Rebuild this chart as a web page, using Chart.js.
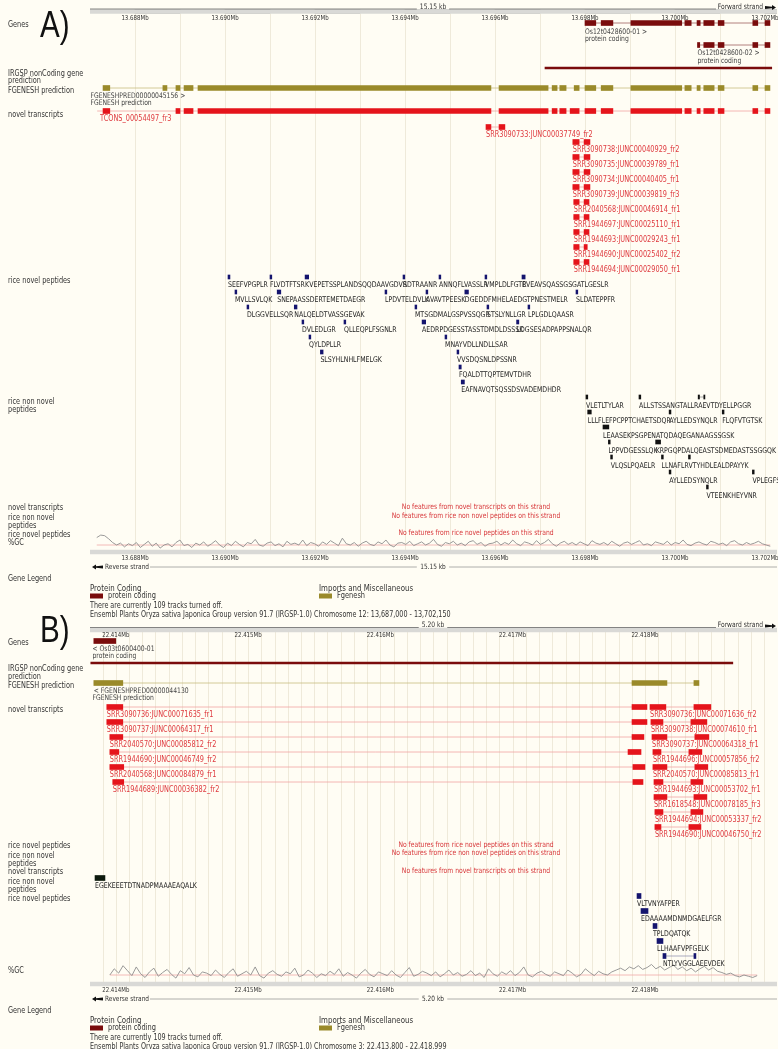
<!DOCTYPE html>
<html><head><meta charset="utf-8">
<script src="https://cdn.jsdelivr.net/npm/chart.js@4.4.1/dist/chart.umd.min.js"></script>
<style>html,body{margin:0;padding:0;background:#fffdf4;overflow:hidden}canvas{display:block}</style>
</head><body>
<canvas id="c" width="778" height="1049"></canvas>
<script>
// ===================== DATA =====================
const viewA = [13687000, 13702267];
const viewB = [22413805, 22418998];
const ticksA = [13688000,13690000,13692000,13694000,13696000,13698000,13700000,13702000];
const tickLabelsA = ['13.688Mb','13.690Mb','13.692Mb','13.694Mb','13.696Mb','13.698Mb','13.700Mb','13.702Mb'];
const ticksB = [22414000,22415000,22416000,22417000,22418000];
const tickLabelsB = ['22.414Mb','22.415Mb','22.416Mb','22.417Mb','22.418Mb'];
const spanLabelA = '15.15 kb', spanLabelB = '5.20 kb';

// Panel A
const geneA1 = [[13698000,13698240],[13698360,13698620],[13699020,13700150],[13700220,13700360],[13700490,13700560],[13700640,13700870],[13700960,13701090],[13701730,13701840],[13702000,13702110]];
const geneA2 = [[13700500,13700550],[13700640,13700870],[13700960,13701090],[13701730,13701840],[13702000,13702110]];
const geneA1Label = ['Os12t0428600-01 >','protein coding'];
const geneA2Label = ['Os12t0428600-02 >','protein coding'];
const irgspA = [13697111, 13702150];
const fgenA = [[13687290,13687440],[13688620,13688710],[13688910,13689000],[13689090,13689290],[13689400,13695910],[13696090,13697180],[13697270,13697380],[13697440,13697580],[13697760,13697870],[13698000,13698240],[13698360,13698620],[13699020,13700150],[13700220,13700360],[13700490,13700560],[13700640,13700870],[13700960,13701090],[13701730,13701840],[13702000,13702110]];
const fgenALabel = ['FGENESHPRED00000045156 >','FGENESH prediction'];
const tconsStart = 13687160;
const tconsA = [[13687290,13687440],[13688910,13689000],[13689090,13689290],[13689400,13695910],[13696090,13697180],[13697270,13697380],[13697440,13697580],[13697670,13697870],[13698000,13698240],[13698360,13698620],[13699020,13700150],[13700220,13700360],[13700490,13700560],[13700640,13700870],[13700960,13701090],[13701730,13701840],[13702000,13702110]];
const tconsLabel = 'TCONS_00054497_fr3';
const srrNamesA = ['SRR3090733:JUNC00037749_fr2','SRR3090738:JUNC00040929_fr2','SRR3090735:JUNC00039789_fr1','SRR3090734:JUNC00040405_fr1','SRR3090739:JUNC00039819_fr3','SRR2040568:JUNC00046914_fr1','SRR1944697:JUNC00025110_fr1','SRR1944693:JUNC00029243_fr1','SRR1944690:JUNC00025402_fr2','SRR1944694:JUNC00029050_fr1'];
const srrExonsA = [
 [[13695800,13695910],[13696090,13696220]],
 [[13697730,13697870],[13697980,13698110]],
 [[13697730,13697870],[13697980,13698110]],
 [[13697730,13697870],[13697980,13698110]],
 [[13697730,13697870],[13697980,13698110]],
 [[13697750,13697870],[13697980,13698090]],
 [[13697750,13697870],[13697980,13698090]],
 [[13697750,13697870],[13697980,13698090]],
 [[13697750,13697870],[13697980,13698050]],
 [[13697750,13697870],[13697980,13698090]]];
// peptides: [start, end, row, sequence]
const pepNovelA = [
 [13690067,13690110,0,'SEEFVPGPLR'],[13691000,13691040,0,'FLVDTFTSR'],[13691780,13691860,0,'KVEPETSSPLANDSQQDAAVGDVR'],
 [13693956,13693996,0,'SDTRAANR'],[13694756,13694796,0,'ANNQFLVASSLR'],[13695778,13695818,0,'VMPLDLFGTR'],[13696600,13696670,0,'EVEAVSQASSGSGATLGESLR'],
 [13690222,13690262,1,'MVLLSVLQK'],[13691160,13691240,1,'SNEPAASSDERTEMETDAEGR'],[13693556,13693596,1,'LPDVTELDVLK'],
 [13694467,13694507,1,'AVAVTPEESK'],[13695330,13695410,1,'DGEDDFMHELAEDGTPNESTMELR'],[13697800,13697840,1,'SLDATEPPFR'],
 [13690489,13690529,2,'DLGGVELLSQR'],[13691540,13691600,2,'NALQELDTVASSGEVAK'],[13694222,13694262,2,'MTSGDMALGSPVSSQGR'],
 [13695822,13695862,2,'STSLYNLLGR'],[13696733,13696773,2,'LPLGDLQAASR'],
 [13691711,13691751,3,'DVLEDLGR'],[13692644,13692684,3,'QLLEQPLFSGNLR'],[13694380,13694460,3,'AEDRPDGESSTASSTDMDLDSSSK'],[13696480,13696530,3,'LDGSESADPAPPSNALQR'],
 [13691867,13691907,4,'QYLDPLLR'],[13694889,13694929,4,'MNAYVDLLNDLLSAR'],
 [13692120,13692180,5,'SLSYHLNHLFMELGK'],[13695156,13695196,5,'VVSDQSNLDPSSNR'],
 [13695200,13695250,6,'FQALDTTQPTEMVTDHR'],
 [13695250,13695320,7,'EAFNAVQTSQSSDSVADEMDHDR']];
const pepNonA = [
 [13698022,13698062,0,'VLETLTYLAR'],[13699200,13699240,0,'ALLSTSSANGTALLR'],[13700515,13700545,0,'AEVTDYELLPGGR'],[13700640,13700665,0,''],
 [13698060,13698140,1,'LLLFLEFPCPPTCHAETSDQR'],[13699870,13699910,1,'AYLLEDSYNQLR'],[13701050,13701090,1,'FLQFVTGTSK'],
 [13698400,13698530,2,'LEAASEKPSGPENATQDAQEGANAAGSSGSK'],
 [13698520,13698560,3,'LPPVDGESSLQK'],[13699570,13699680,3,'KRPGQPDALQEASTSDMEDASTSSGGQK'],
 [13698570,13698610,4,'VLQSLPQAELR'],[13699700,13699740,4,'LLNAFLR'],[13700300,13700340,4,'VTYHDLEALDPAYYK'],
 [13699870,13699910,5,'AYLLEDSYNQLR'],[13701720,13701760,5,'VPLEGFSK'],
 [13700700,13700740,6,'VTEENKHEYVNR']];
const gcA = [62,66,65,60,54,50,53,47,52,49,54,46,51,56,48,53,45,50,52,47,54,58,49,51,46,53,50,55,48,52,57,50,46,53,49,56,51,47,54,52,59,50,48,53,55,49,52,47,56,51,53,50,58,49,54,52,48,55,51,57,53,49,61,52,50,54,48,53,56,51,49,55,52,58,50,47,53,54,51,56,49,52,55,50,53,59,51,48,54,52,56,50,53,49,55,57,51,54,48,52,53,56,50,54,51,58,52,49,55,53,50,57,51,54,59,52,48,53,56,51,54,50,55,52,49,57,53,51,54,50,56,52,48,53,55,51,54,57,50,52,49,55,53,51,56,50,54,52,58,51,49,53,55,52,50,56,54,51,53,49,55,57,52,50,54,51,53,56,52,50,48];

// Panel B
const geneB = [[22413834,22414000]];
const geneBLabel = ['< Os03t0600400-01','protein coding'];
const irgspB = [22413811, 22418664];
const fgenB = [[22413834,22414053],[22417902,22418166],[22418370,22418408]];
const fgenBLabel = ['< FGENESHPRED00000044130','FGENESH prediction'];
const txLeftNamesB = ['SRR3090736:JUNC00071635_fr1','SRR3090737:JUNC00064317_fr1','SRR2040570:JUNC00085812_fr2','SRR1944690:JUNC00046749_fr2','SRR2040568:JUNC00084879_fr1','SRR1944689:JUNC00036382_fr2'];
const txLeftExonsB = [
 [[22413932,22414053],[22417902,22418015]],
 [[22413932,22414053],[22417902,22418015]],
 [[22413955,22414053],[22417902,22417992]],
 [[22413955,22414023],[22417872,22417970]],
 [[22413955,22414060],[22417909,22418000]],
 [[22413977,22414060],[22417909,22417985]]];
const txRightNamesB = ['SRR3090736:JUNC00071636_fr2','SRR3090738:JUNC00074610_fr1','SRR3090737:JUNC00064318_fr1','SRR1944696:JUNC00057856_fr2','SRR2040570:JUNC00085813_fr1','SRR1944693:JUNC00053702_fr1','SRR1618548:JUNC00078185_fr3','SRR1944694:JUNC00053337_fr2','SRR1944690:JUNC00046750_fr2'];
const txRightExonsB = [
 [[22418038,22418158],[22418370,22418498]],
 [[22418045,22418136],[22418347,22418468]],
 [[22418053,22418166],[22418377,22418483]],
 [[22418060,22418121],[22418332,22418430]],
 [[22418060,22418166],[22418377,22418475]],
 [[22418068,22418136],[22418347,22418438]],
 [[22418068,22418166],[22418370,22418468]],
 [[22418075,22418136],[22418347,22418438]],
 [[22418075,22418121],[22418332,22418423]]];
const pepNonB = [[22413843,22413918,0,'EGEKEEETDTNADPMAAAEAQALK']];
const pepNovelB = [
 [22417940,22417970,0,'VLTVNYAFPER'],[22417970,22418023,1,'EDAAAAMDNMDGAELFGR'],[22418061,22418091,2,'TPLDQATQK'],
 [22418091,22418136,3,'LLHAAFVPFGELK'],[22418136,22418159,4,'NTLYVGGLAEEVDEK'],[22418370,22418385,4,'']];
const gcB = [50,60,53,65,57,49,63,52,46,55,61,48,54,59,51,45,57,52,62,50,47,55,53,49,58,51,46,54,60,48,52,56,50,63,49,45,53,57,51,48,55,52,61,47,50,58,53,46,52,49,56,51,60,48,54,50,45,53,59,51,47,55,52,49,57,50,46,54,62,48,51,56,53,49,55,47,52,58,50,54,48,51,57,49,53,46,60,52,48,55,51,57,49,54,63,50,47,53,56,51,48,55,52,49,58,53,47,51,60,54,49,56,52,50,55,58,61,57,63,60,65,59,62,67,60,64,58,62,66,59,63,57,61,55,60,64,58,62,56,54,51,53,49,47,50,48,46,49];
const gcRef = 50;

const msgA = ['No features from novel transcripts on this strand','No features from rice non novel peptides on this strand','No features from rice novel peptides on this strand'];
const msgB = ['No features from rice novel peptides on this strand','No features from rice non novel peptides on this strand','No features from novel transcripts on this strand'];
const infoA = ['There are currently 109 tracks turned off.','Ensembl Plants Oryza sativa Japonica Group version 91.7 (IRGSP-1.0) Chromosome 12: 13,687,000 - 13,702,150'];
const infoB = ['There are currently 109 tracks turned off.','Ensembl Plants Oryza sativa Japonica Group version 91.7 (IRGSP-1.0) Chromosome 3: 22,413,800 - 22,418,999'];

// ===================== LAYOUT / STYLE =====================
const W = 778, H = 1049;
const FONT = "'DejaVu Sans',Verdana,sans-serif";
const HS = 0.8;
const C = {bg:'#fffdf4', gene:'#7a0c0c', geneLine:'#a06060', fgen:'#9a8a2a', fgenLine:'#c8bd80', tx:'#e5141b', txLine:'#f1a3a3', txText:'#df3a3f',
  pepN:'#14146e', pepNN:'#111111', pepText:'#222', label:'#333', msg:'#d8393c', grid:'rgba(196,186,150,0.28)', gc:'#8f8f8f', gcRef:'#f0a8a8'};
const LA = {kb:7, ruler:11.5, tick:18, gene1:23, gene2:45, irgsp:68, fgen:88, tcons:111, srr:127, step:15, pepN:277, pepNN:397,
  msg:[507,516,533], gcMid:545, rulerB:552, tickB:558.5, rev:567, legHead:589, swatch:596, info:[606,615], gridTop:14, gridBot:550,
  tracks:[['Genes',25],['IRGSP nonCoding gene',74],['prediction',81],['FGENESH prediction',91],['novel transcripts',115],['rice novel peptides',281],['rice non novel',402],['peptides',410],['novel transcripts',508],['rice non novel',518],['peptides',526],['rice novel peptides',535],['%GC',543],['Gene Legend',579]],
  title:['A)',40,40]};
const LB = {kb:625.5, ruler:630, tick:635.5, gene:641, irgsp:663, fgen:683, tx:707, step:15, pepNN:878, pepN:896,
  msg:[845,853,871], gcMid:975, rulerB:984, tickB:990, rev:999, legHead:1021, swatch:1028, info:[1038,1047], gridTop:632, gridBot:982,
  tracks:[['Genes',643],['IRGSP nonCoding gene',669],['prediction',677],['FGENESH prediction',686],['novel transcripts',710],['rice novel peptides',846],['rice non novel',856],['peptides',864],['novel transcripts',872],['rice non novel',882],['peptides',890],['rice novel peptides',899],['%GC',971],['Gene Legend',1011]],
  title:['B)',40,645]};
const GC_PX = 0.62;
const MSG_X = 476;

// ===================== DATASETS =====================
const ds = [];
function bars(xid, color, thick, items){
  ds.push({type:'bar', indexAxis:'y', xAxisID:xid, yAxisID:'y', data: items.map(b=>({x:[b[0],b[1]], y:b[2]})),
    backgroundColor: color, barThickness: thick, grouped:false, borderWidth:0, order:1});
}
function segs(xid, yid, color, w, list){
  const pts=[]; list.forEach(s=>{pts.push({x:s[0],y:s[2]},{x:s[1],y:s[2]},{x:s[1],y:null});});
  ds.push({type:'line', xAxisID:xid, yAxisID:yid, data:pts, borderColor:color, borderWidth:w, pointRadius:0, fill:false, tension:0, spanGaps:false, order:5});
}
function transcript(xid, exons, y, color, lineColor, thick, startOverride){
  bars(xid, color, thick, exons.map(e=>[e[0],e[1],y]));
  segs(xid, 'y', lineColor, 0.8, [[startOverride!==undefined?startOverride:exons[0][0], exons[exons.length-1][1], y]]);
}
function ruler(xid, view, blacks, y){
  bars(xid, '#d9d9d6', 4, [[view[0], view[1], y]]);
  bars(xid, '#111', 3, blacks.map(b=>[b[0],b[1],y]));
}
transcript('xA', geneA1, LA.gene1, C.gene, C.geneLine, 5);
transcript('xA', geneA2, LA.gene2, C.gene, C.geneLine, 5);
bars('xA', C.gene, 2, [[irgspA[0], irgspA[1], LA.irgsp]]);
transcript('xA', fgenA, LA.fgen, C.fgen, C.fgenLine, 5);
transcript('xA', tconsA, LA.tcons, C.tx, C.txLine, 5, tconsStart);
srrExonsA.forEach((ex,i)=>transcript('xA', ex, LA.srr+i*LA.step, C.tx, C.txLine, 5));
bars('xA', C.pepN, 4, pepNovelA.map(p=>[p[0],p[1],LA.pepN+p[2]*LA.step]));
bars('xA', C.pepNN, 4, pepNonA.map(p=>[p[0],p[1],LA.pepNN+p[2]*LA.step]));
segs('xA','y', '#777', 0.6, [[13700545,13700640,LA.pepNN]]);
const blacksA = []; for (let i=0;i<ticksA.length;i++){ blacksA.push([ticksA[i], Math.min(ticksA[i]+1000, viewA[1])]); }
ruler('xA', viewA, blacksA, LA.ruler); ruler('xA', viewA, blacksA, LA.rulerB);
bars('xB', C.gene, 5, geneB.map(e=>[e[0],e[1],LB.gene]));
bars('xB', C.gene, 2, [[irgspB[0], irgspB[1], LB.irgsp]]);
transcript('xB', fgenB, LB.fgen, C.fgen, C.fgenLine, 5);
txLeftExonsB.forEach((ex,i)=>transcript('xB', ex, LB.tx+i*LB.step, C.tx, C.txLine, 5));
txRightExonsB.forEach((ex,i)=>transcript('xB', ex, LB.tx+i*LB.step, C.tx, C.txLine, 5));
bars('xB', '#0d1a0d', 5, pepNonB.map(p=>[p[0],p[1],LB.pepNN+p[2]*LB.step]));
bars('xB', C.pepN, 5, pepNovelB.map(p=>[p[0],p[1],LB.pepN+p[2]*LB.step]));
segs('xB','y', '#8888aa', 0.7, [[22418159,22418370,LB.pepN+4*LB.step]]);
const blacksB = []; for (let t=22413900; t<viewB[1]; t+=200){ blacksB.push([Math.max(t, viewB[0]), Math.min(t+100, viewB[1])]); }
ruler('xB', viewB, blacksB, LB.ruler); ruler('xB', viewB, blacksB, LB.rulerB);
function gcDataset(arr, view, xid, yid){
  const step = (view[1]-view[0]-300)/(arr.length-1);
  ds.push({type:'line', xAxisID:xid, yAxisID:yid, data: arr.map((v,i)=>({x:view[0]+150+i*step, y:v})), borderColor:C.gc, borderWidth:0.9, pointRadius:0, fill:false, tension:0, order:6});
  ds.push({type:'line', xAxisID:xid, yAxisID:yid, data:[{x:view[0]+150,y:gcRef},{x:view[1]-150,y:gcRef}], borderColor:C.gcRef, borderWidth:0.8, pointRadius:0, fill:false, order:7});
}
gcDataset(gcA, viewA, 'xA', 'yGA');
gcDataset(gcB, viewB, 'xB', 'yGB');
function gcAxis(mid){ const max = gcRef + mid/GC_PX; return {type:'linear', axis:'y', display:false, min: max - H/GC_PX, max: max, offset:false}; }

// ===================== TEXT PLUGIN =====================
function T(ctx, s, x, y, size, color, align, family, hs){
  ctx.save(); ctx.translate(x, y); ctx.scale(hs===undefined?HS:hs, 1);
  ctx.font = size+'px '+(family||FONT); ctx.fillStyle = color; ctx.textAlign = align||'left'; ctx.textBaseline='middle';
  ctx.fillText(s, 0, 0); ctx.restore();
}
function tw(ctx, s, size){ ctx.font = size+'px '+FONT; return ctx.measureText(s).width*HS; }
function hline(ctx, x1, x2, y, color, w){ ctx.strokeStyle=color; ctx.lineWidth=w; ctx.beginPath(); ctx.moveTo(x1,y); ctx.lineTo(x2,y); ctx.stroke(); }
function arrow(ctx, x, y, dir){ ctx.fillStyle='#111'; ctx.beginPath(); if(dir>0){ctx.moveTo(x,y-1.5);ctx.lineTo(x+7,y-0.8);ctx.lineTo(x+7,y-2.5);ctx.lineTo(x+11,y);ctx.lineTo(x+7,y+2.5);ctx.lineTo(x+7,y+0.8);ctx.lineTo(x,y+1.5);} else {ctx.moveTo(x+11,y-1.5);ctx.lineTo(x+4,y-0.8);ctx.lineTo(x+4,y-2.5);ctx.lineTo(x,y);ctx.lineTo(x+4,y+2.5);ctx.lineTo(x+4,y+0.8);ctx.lineTo(x+11,y+1.5);} ctx.closePath(); ctx.fill(); }

const plugin = {
  id:'ens',
  beforeDraw(chart){ const ctx=chart.ctx; ctx.save(); ctx.fillStyle=C.bg; ctx.fillRect(0,0,W,H); ctx.restore(); },
  beforeDatasetsDraw(chart){
    const ctx=chart.ctx, xa=chart.scales.xA, xb=chart.scales.xB;
    ctx.save(); ctx.strokeStyle=C.grid; ctx.lineWidth=1;
    for(let t=viewA[0]+1000;t<viewA[1];t+=1000){ const x=Math.round(xa.getPixelForValue(t))+0.5; ctx.beginPath(); ctx.moveTo(x,LA.gridTop); ctx.lineTo(x,LA.gridBot); ctx.stroke(); }
    for(let t=22413900;t<viewB[1];t+=100){ const x=Math.round(xb.getPixelForValue(t))+0.5; ctx.beginPath(); ctx.moveTo(x,LB.gridTop); ctx.lineTo(x,LB.gridBot); ctx.stroke(); }
    ctx.restore();
  },
  afterDatasetsDraw(chart){
    const ctx=chart.ctx, xa=chart.scales.xA, xb=chart.scales.xB;
    const left = chart.chartArea.left, right = chart.chartArea.right;
    ctx.save();
    [[LA,xa,ticksA,tickLabelsA,spanLabelA,infoA,msgA],[LB,xb,ticksB,tickLabelsB,spanLabelB,infoB,msgB]].forEach(([L,xs,tk,tl,span,info,msg])=>{
      T(ctx, L.title[0], L.title[1], L.title[2]-13, 37, '#111', 'left', "'Liberation Sans',Arial,sans-serif");
      L.tracks.forEach(t=>T(ctx, t[0], 8, t[1], 8.2, C.label, 'left'));
      const sw = tw(ctx, span, 7.5);
      const cx = 433;
      hline(ctx, left, cx-sw/2-3, L.kb+2, '#666', 0.8);
      hline(ctx, cx+sw/2+3, 716, L.kb+2, '#666', 0.8);
      T(ctx, span, cx, L.kb, 7.5, '#333', 'center');
      T(ctx, 'Forward strand', 763, L.kb, 7.5, '#333', 'right');
      arrow(ctx, 765, L.kb+0.5, 1);
      tk.forEach((t,i)=>{ T(ctx, tl[i], xs.getPixelForValue(t), L.tick, 6.8, '#333', 'center'); T(ctx, tl[i], xs.getPixelForValue(t), L.tickB, 6.8, '#333', 'center'); });
      arrow(ctx, 92, L.rev, -1);
      T(ctx, 'Reverse strand', 105, L.rev, 7.3, '#333', 'left');
      hline(ctx, 150, cx-sw/2-3, L.rev, '#999', 0.8);
      hline(ctx, cx+sw/2+3, right, L.rev, '#999', 0.8);
      T(ctx, span, cx, L.rev, 7.3, '#333', 'center');
      msg.forEach((m,i)=>T(ctx, m, MSG_X, L.msg[i], 7.6, C.msg, 'center'));
      T(ctx, 'Protein Coding', 90, L.legHead, 8.8, '#333', 'left');
      T(ctx, 'Imports and Miscellaneous', 319, L.legHead, 8.8, '#333', 'left');
      ctx.fillStyle=C.gene; ctx.fillRect(90, L.swatch-2.5, 13, 5);
      ctx.fillStyle=C.fgen; ctx.fillRect(319, L.swatch-2.5, 13, 5);
      T(ctx, 'protein coding', 108, L.swatch, 8.3, '#333', 'left');
      T(ctx, 'Fgenesh', 337, L.swatch, 8.3, '#333', 'left');
      T(ctx, info[0], 90, L.info[0], 8, '#333', 'left');
      T(ctx, info[1], 90, L.info[1], 8, '#333', 'left');
    });
    const fl = (s, xs, x, y)=>T(ctx, s, xs.getPixelForValue(x), y, 7.6, '#444', 'left');
    fl(geneA1Label[0], xa, geneA1[0][0], LA.gene1+9); fl(geneA1Label[1], xa, geneA1[0][0], LA.gene1+16);
    fl(geneA2Label[0], xa, geneA2[0][0], LA.gene2+8.5); fl(geneA2Label[1], xa, geneA2[0][0], LA.gene2+16);
    fl(fgenALabel[0], xa, viewA[0]+10, LA.fgen+8); fl(fgenALabel[1], xa, viewA[0]+10, LA.fgen+15);
    T(ctx, tconsLabel, xa.getPixelForValue(tconsA[0][0])-3, LA.tcons+8, 8.2, C.txText, 'left');
    srrNamesA.forEach((n,i)=>T(ctx, n, xa.getPixelForValue(srrExonsA[i][0][0]), LA.srr+i*LA.step+8, 8.2, C.txText, 'left'));
    pepNovelA.forEach(p=>{ if(p[3]) T(ctx, p[3], xa.getPixelForValue(p[0]), LA.pepN+p[2]*LA.step+8, 7.8, C.pepText, 'left'); });
    pepNonA.forEach(p=>{ if(p[3]) T(ctx, p[3], xa.getPixelForValue(p[0]), LA.pepNN+p[2]*LA.step+8.5, 7.8, C.pepText, 'left'); });
    fl(geneBLabel[0], xb, geneB[0][0]-10, LB.gene+8); fl(geneBLabel[1], xb, geneB[0][0]-10, LB.gene+15);
    fl(fgenBLabel[0], xb, fgenB[0][0], LB.fgen+8); fl(fgenBLabel[1], xb, fgenB[0][0]-10, LB.fgen+15);
    txLeftNamesB.forEach((n,i)=>T(ctx, n, xb.getPixelForValue(txLeftExonsB[i][0][0]), LB.tx+i*LB.step+8, 8.2, C.txText, 'left'));
    txRightNamesB.forEach((n,i)=>T(ctx, n, xb.getPixelForValue(txRightExonsB[i][0][0]), LB.tx+i*LB.step+8, 8.2, C.txText, 'left'));
    pepNonB.forEach(p=>T(ctx, p[3], xb.getPixelForValue(p[0]), LB.pepNN+p[2]*LB.step+8, 7.8, C.pepText, 'left'));
    pepNovelB.forEach(p=>{ if(p[3]) T(ctx, p[3], xb.getPixelForValue(p[0]), LB.pepN+p[2]*LB.step+8, 7.8, C.pepText, 'left'); });
    ctx.restore();
  }
};

new Chart(document.getElementById('c'), {
  type:'line',
  data:{datasets: ds},
  options:{
    responsive:false, animation:false, devicePixelRatio:1, events:[],
    layout:{padding:{left:90, right:1, top:0, bottom:0}},
    plugins:{legend:{display:false}, tooltip:{enabled:false}},
    scales:{
      xA:{type:'linear', axis:'x', position:'bottom', display:false, min:viewA[0], max:viewA[1], offset:false},
      xB:{type:'linear', axis:'x', position:'bottom', display:false, min:viewB[0], max:viewB[1], offset:false},
      y:{type:'linear', axis:'y', display:false, min:0, max:H, reverse:true, offset:false},
      yGA: gcAxis(LA.gcMid),
      yGB: gcAxis(LB.gcMid)
    }
  },
  plugins:[plugin]
});
</script>
</body></html>
